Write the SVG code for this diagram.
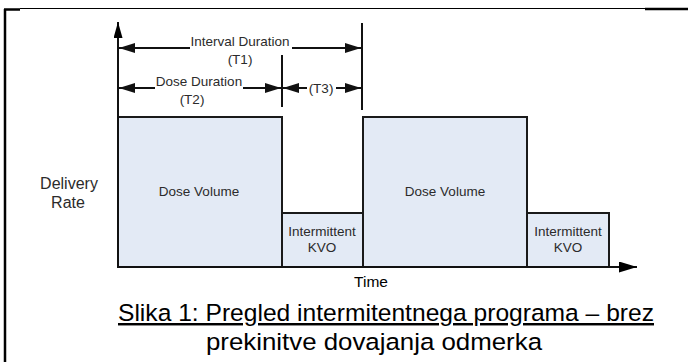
<svg xmlns="http://www.w3.org/2000/svg" width="688" height="362" viewBox="0 0 688 362">
<style>
.frame{stroke:#000;fill:none}
.box{fill:#e3eaf5;stroke:#1a1a1a;stroke-width:2}
.ln{stroke:#111;stroke-width:2;fill:none}
.dim{stroke:#111;stroke-width:2;fill:none}
.t{font-family:"Liberation Sans",Arial,sans-serif;fill:#2b2b2b;text-anchor:middle}
.lbl{font-size:13.5px}
.dt{font-size:13.5px}
.cap{font-family:"Liberation Sans",Arial,sans-serif;fill:#000;text-anchor:middle;font-size:24.5px}
</style>
<defs>
<marker id="ah" viewBox="0 0 16 10" refX="16" refY="5" markerWidth="16" markerHeight="10" markerUnits="userSpaceOnUse" orient="auto">
<path d="M0,0 L16,5 L0,10 Z" fill="#111"/>
</marker>
<marker id="ax" viewBox="0 0 18 11" refX="18" refY="5.5" markerWidth="18" markerHeight="11" markerUnits="userSpaceOnUse" orient="auto">
<path d="M0,0 L18,5.5 L0,11 Z" fill="#000"/>
</marker>
<marker id="ay" viewBox="0 0 16 9" refX="16" refY="4.5" markerWidth="16" markerHeight="9" markerUnits="userSpaceOnUse" orient="auto">
<path d="M0,0 L16,4.5 L0,9 Z" fill="#000"/>
</marker>
</defs>
<rect width="688" height="362" fill="#fff"/>
<g id="frame">
<line class="frame" x1="5" y1="9" x2="5" y2="362" stroke-width="2.5"/>
<line class="frame" x1="4" y1="9.5" x2="20" y2="9.5" stroke-width="2.5"/>
<line class="frame" x1="20" y1="8.5" x2="645" y2="8.5" stroke-width="1"/>
<line class="frame" x1="645" y1="9" x2="688" y2="9" stroke-width="2.5"/>
</g>
<g id="dose1">
<rect class="box" x="118" y="117" width="164" height="150"/>
<text class="t lbl" x="199" y="196">Dose Volume</text>
</g>
<g id="kvo1">
<rect class="box" x="282" y="213" width="81" height="54"/>
<text class="t lbl" x="322" y="236">Intermittent</text>
<text class="t lbl" x="322" y="252">KVO</text>
</g>
<g id="dose2">
<rect class="box" x="363" y="117" width="164" height="150"/>
<text class="t lbl" x="445" y="196">Dose Volume</text>
</g>
<g id="kvo2">
<rect class="box" x="527" y="213" width="82" height="54"/>
<text class="t lbl" x="568" y="236">Intermittent</text>
<text class="t lbl" x="568" y="252">KVO</text>
</g>
<g id="axes">
<line class="ln" x1="118" y1="268" x2="118" y2="22" marker-end="url(#ay)"/>
<line class="ln" x1="117" y1="267" x2="637" y2="267" marker-end="url(#ax)"/>
<text class="t" x="69" y="189" font-size="16">Delivery</text>
<text class="t" x="68" y="208" font-size="16">Rate</text>
<text class="t" x="371" y="287" font-size="15.5" style="fill:#000">Time</text>
</g>
<g id="connectors">
<line class="dim" x1="362" y1="23" x2="362" y2="110"/>
<line class="dim" x1="282" y1="55" x2="282" y2="107"/>
<line class="dim" x1="190" y1="48" x2="119" y2="48" marker-end="url(#ah)"/>
<line class="dim" x1="292" y1="48" x2="361" y2="48" marker-end="url(#ah)"/>
<line class="dim" x1="155" y1="88" x2="119" y2="88" marker-end="url(#ah)"/>
<line class="dim" x1="243" y1="88" x2="281" y2="88" marker-end="url(#ah)"/>
<line class="dim" x1="307" y1="88" x2="283" y2="88" marker-end="url(#ah)"/>
<line class="dim" x1="336" y1="88" x2="361" y2="88" marker-end="url(#ah)"/>
</g>
<g id="dimlabels">
<text class="t dt" x="240" y="46">Interval Duration</text>
<text class="t dt" x="240" y="64">(T1)</text>
<text class="t dt" x="199" y="86">Dose Duration</text>
<text class="t dt" x="192" y="104">(T2)</text>
<text class="t dt" x="321" y="93">(T3)</text>
</g>
<g id="caption">
<text class="cap" x="386" y="321" text-decoration="underline" textLength="536" lengthAdjust="spacingAndGlyphs">Slika 1: Pregled intermitentnega programa – brez</text>
<text class="cap" x="374" y="350" textLength="336" lengthAdjust="spacingAndGlyphs">prekinitve dovajanja odmerka</text>
</g>
</svg>
